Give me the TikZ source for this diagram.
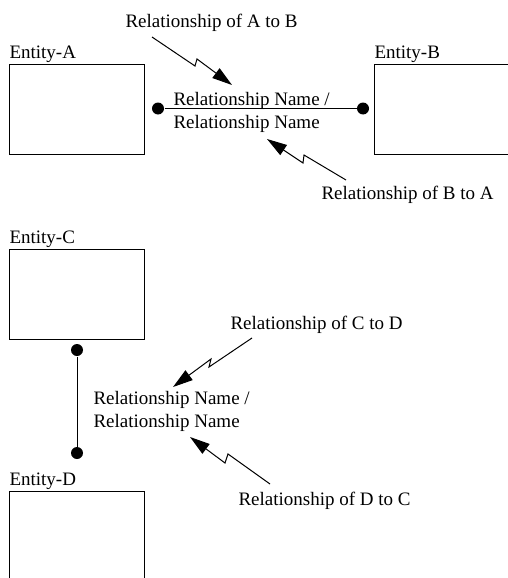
\documentclass[tikz,border=0pt]{standalone}
\usepackage{fontspec}
\setmainfont{Liberation Serif}
\usetikzlibrary{arrows.meta}
\begin{document}
\begin{tikzpicture}[x = 1pt, y = -1pt, line width = 1pt,
        entity/.style = {rectangle, draw = black, minimum width = 135pt, minimum height = 90pt, anchor = north west},
        txt/.style = {inner sep = 0pt, anchor = base west, font = \fontsize{19}{23}\selectfont, align = left},
        dot/.style = {circle, fill = black, inner sep = 0pt, minimum size = 12pt},
        zap/.style = {-{Triangle[length = 20pt, width = 12pt]}}]
    \useasboundingbox (0,0) rectangle (508,578);
    % entities
    \node [entity, label = {[txt, yshift = 5.5pt]north west:Entity-A}] (A) at (9,64) {};
    \node [entity, minimum width = 140pt, label = {[txt, yshift = 5.5pt]north west:Entity-B}] (B) at (374,64) {};
    \node [entity, label = {[txt, yshift = 5.5pt]north west:Entity-C}] (C) at (9,249) {};
    \node [entity, label = {[txt, yshift = 5.5pt]north west:Entity-D}] (D) at (9,491) {};
    % A -- B
    \node [dot] (dA) at (158,108.5) {};
    \node [dot] (dB) at (363,108.5) {};
    \draw (dA) -- (dB);
    \node [txt] (nameAB) at (173,128.5) {Relationship Name /\\Relationship Name};
    \node [txt] (ofAB) at (125,27.5) {Relationship of A to B};
    \node [txt] (ofBA) at (321,199) {Relationship of B to A};
    \coordinate (t1) at (152,37);
    \coordinate (h1) at (232,85);
    \draw [zap] (t1) -- (195,66) -- (197,59) -- (h1);
    \coordinate (t2) at (346,180);
    \coordinate (h2) at (267,139);
    \draw [zap] (t2) -- (304,155) -- (303,163) -- (h2);
    % C -- D
    \node [dot] (dC) at (77,350) {};
    \node [dot] (dD) at (77,453) {};
    \draw (dC) -- (dD);
    \node [txt] (nameCD) at (93,427) {Relationship Name /\\Relationship Name};
    \node [txt] (ofCD) at (230,329) {Relationship of C to D};
    \node [txt] (ofDC) at (238,505) {Relationship of D to C};
    \coordinate (t3) at (252,338);
    \coordinate (h3) at (173,387);
    \draw [zap] (t3) -- (209,367) -- (211,359) -- (h3);
    \coordinate (t4) at (270,484);
    \coordinate (h4) at (190,437);
    \draw [zap] (t4) -- (228,454) -- (225,463) -- (h4);
\end{tikzpicture}
\end{document}
